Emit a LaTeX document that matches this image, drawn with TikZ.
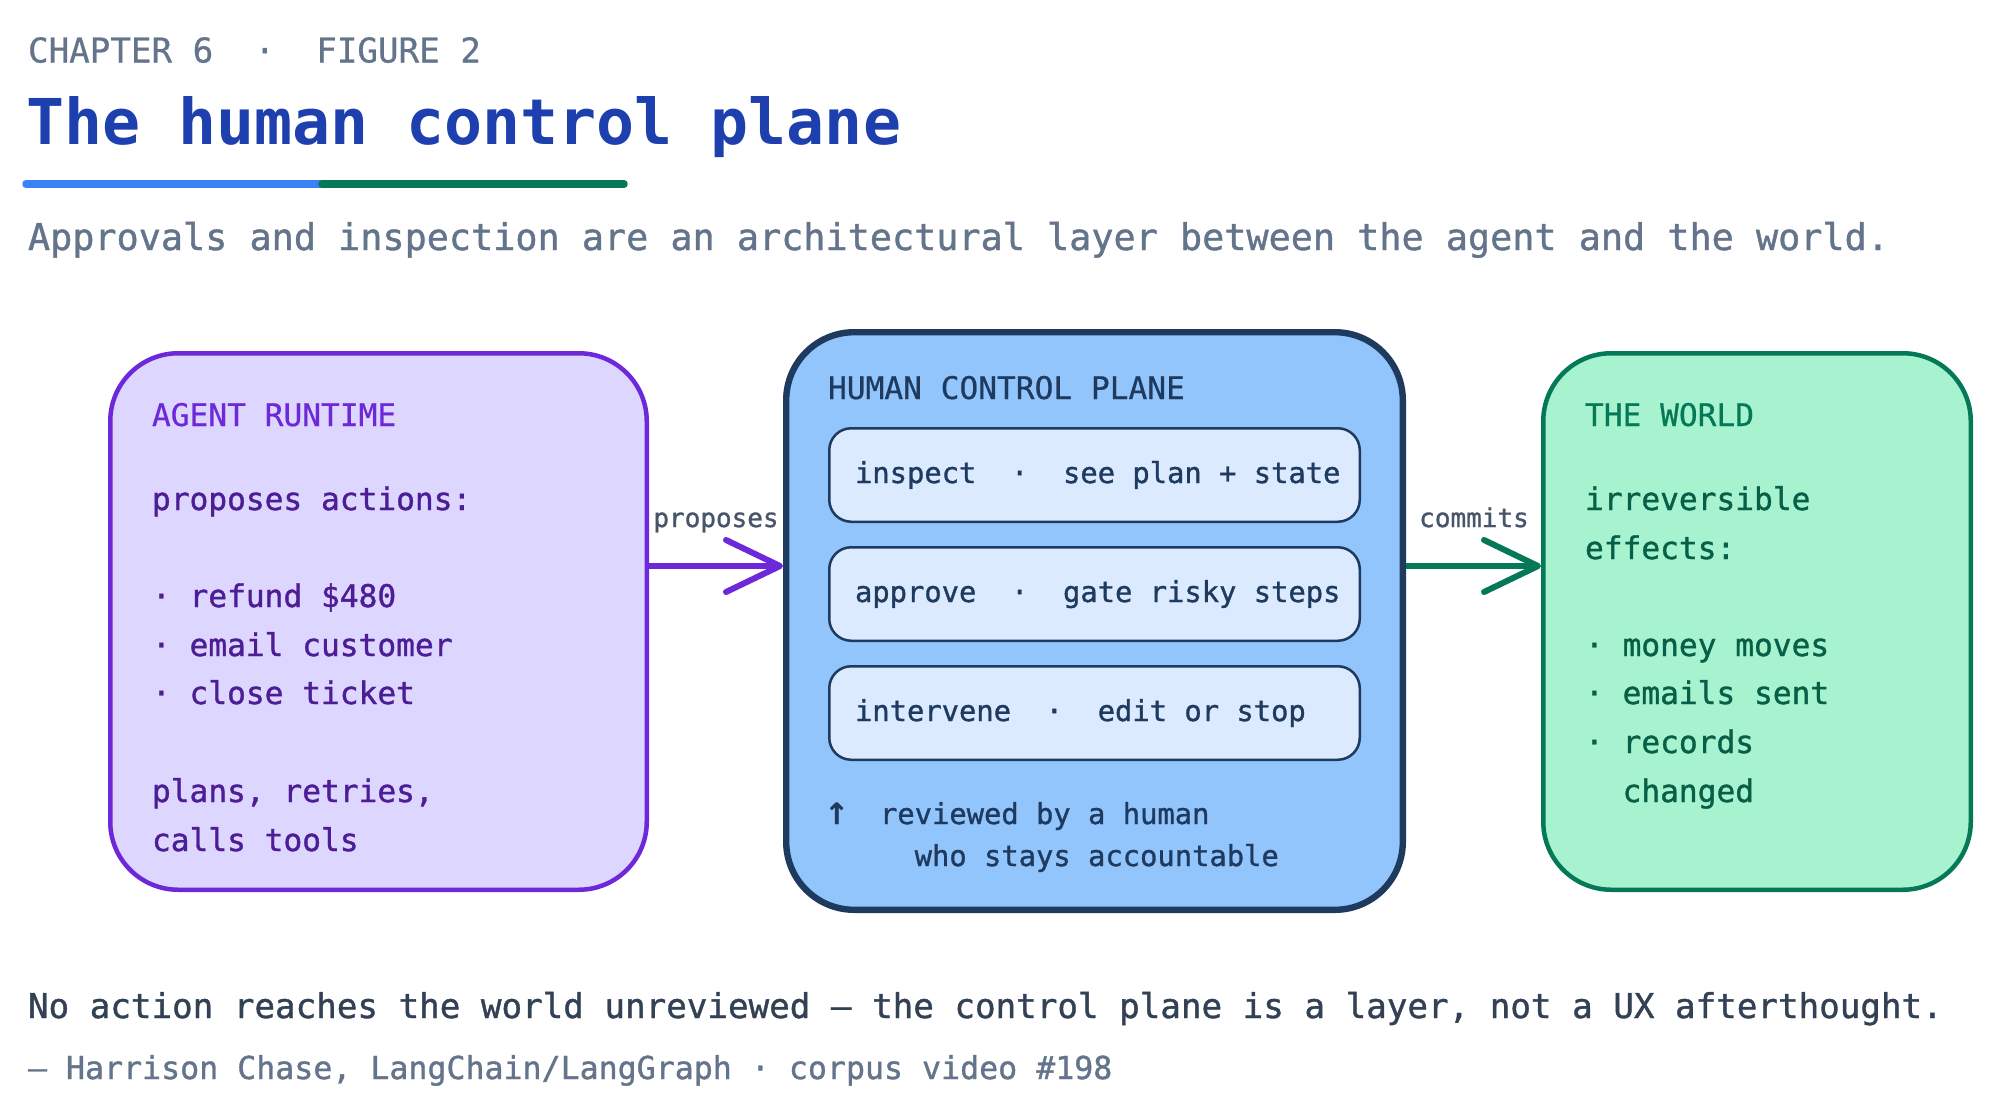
\documentclass[tikz,border=0pt]{standalone}
\usepackage{fontspec}
\setmainfont{DejaVu Sans Mono}
\newfontfamily\mono[FakeBold=0.6]{DejaVu Sans Mono}
\newfontfamily\monomed[FakeBold=1.1]{DejaVu Sans Mono}
\newfontfamily\monobold{DejaVu Sans Mono Bold}
\usetikzlibrary{arrows.meta}
\definecolor{slate}{HTML}{64748B}
\definecolor{slatedark}{HTML}{334155}
\definecolor{labelc}{HTML}{475569}
\definecolor{titleblue}{HTML}{1E40AF}
\definecolor{barblue}{HTML}{3B82F6}
\definecolor{bargreen}{HTML}{047857}
\definecolor{purpleB}{HTML}{6D28D9}
\definecolor{purpleT}{HTML}{4C1D95}
\definecolor{lavender}{HTML}{DDD6FE}
\definecolor{navy}{HTML}{1E3A5F}
\definecolor{skyfill}{HTML}{93C5FD}
\definecolor{rowfill}{HTML}{DBEAFE}
\definecolor{greenB}{HTML}{047857}
\definecolor{greenT}{HTML}{065F46}
\definecolor{mint}{HTML}{A7F3D0}
\newcommand\fsz[1]{\fontsize{#1}{#1}\selectfont}
\newcommand\uparr{\makebox[0.602em][c]{\fontsize{20}{20}\selectfont ↑}}
\tikzset{
  txt/.style={anchor=base west, inner sep=0pt, outer sep=0pt},
  agentbox/.style={draw=purpleB, fill=lavender, line width=2.25pt, rounded corners=34pt, inner sep=0pt},
  hcpbox/.style={draw=navy, fill=skyfill, line width=3.2pt, rounded corners=34pt, inner sep=0pt},
  worldbox/.style={draw=greenB, fill=mint, line width=2.25pt, rounded corners=34pt, inner sep=0pt},
  rowbox/.style={draw=navy, fill=rowfill, line width=1.25pt, rounded corners=11pt, inner sep=0pt,
     minimum width=265.25pt, minimum height=46.75pt},
  agenthead/.style={txt, font=\mono\fsz{15.6}, text=purpleB},
  agentbody/.style={txt, font=\monomed\fsz{15.6}, text=purpleT},
  worldhead/.style={txt, font=\mono\fsz{15.6}, text=greenB},
  worldbody/.style={txt, font=\monomed\fsz{15.6}, text=greenT},
  rowtxt/.style={txt, font=\monomed\fsz{14.4}, text=navy},
  arrlabel/.style={anchor=base, inner sep=0pt, font=\monomed\fsz{13}, text=labelc},
  conn/.style={line width=3pt, -{Straight Barb[length=27pt, width=26pt, round]}},
}
\begin{document}
\begin{tikzpicture}[x=0.5pt, y=-0.5pt]
\useasboundingbox[fill=white] (0,0) rectangle (2000,1119);

% header
\node[txt, font=\mono\fsz{17.1}, text=slate] (chap) at (28,62.5) {CHAPTER 6~~·~~FIGURE 2};
\node[txt, font=\monobold\fsz{31.6}, text=titleblue] (title) at (26,144) {The human control plane};
\draw[line width=3.75pt, barblue, line cap=round] (26,184) -- (322,184);
\draw[line width=3.75pt, bargreen, line cap=round] (322,184) -- (624,184);
\node[txt, font=\monomed\fsz{18.4}, text=slate] (sub) at (28,250) {Approvals and inspection are an architectural layer between the agent and the world.};

% boxes
\node[agentbox, minimum width=268.25pt, minimum height=268.25pt] (agent) at (378.5,621.5) {};
\node[hcpbox, minimum width=308.3pt, minimum height=288.8pt] (hcp) at (1094.5,621) {};
\node[worldbox, minimum width=213.75pt, minimum height=268.25pt] (world) at (1757,621.5) {};

% agent text
\node[agenthead] (a0) at (152,426) {AGENT RUNTIME};
\node[agentbody] (a1) at (152,510) {proposes actions:};
\node[agentbody] (a2) at (152,607) {· refund \$480};
\node[agentbody] (a3) at (152,656) {· email customer};
\node[agentbody] (a4) at (152,704) {· close ticket};
\node[agentbody] (a5) at (152,802) {plans, retries,};
\node[agentbody] (a6) at (152,851) {calls tools};

% human control plane
\node[txt, font=\mono\fsz{15.6}, text=navy] (h0) at (828,399) {HUMAN CONTROL PLANE};
\node[rowbox] (r1) at (1094.5,475) {};
\node[rowbox] (r2) at (1094.5,594) {};
\node[rowbox] (r3) at (1094.5,713) {};
\node[rowtxt] (t1) at (855,483) {inspect~~·~~see plan + state};
\node[rowtxt] (t2) at (855,602) {approve~~·~~gate risky steps};
\node[rowtxt] (t3) at (855,721) {intervene~~·~~edit or stop};
\node[rowtxt] (rv1) at (828,824) {\uparr~~reviewed by a human};
\node[rowtxt] (rv2) at (828,866) {~~~~~who stays accountable};

% world text
\node[worldhead] (w0) at (1585,426) {THE WORLD};
\node[worldbody] (w1) at (1585,510) {irreversible};
\node[worldbody] (w2) at (1585,559) {effects:};
\node[worldbody] (w3) at (1585,656) {· money moves};
\node[worldbody] (w4) at (1585,704) {· emails sent};
\node[worldbody] (w5) at (1585,753) {· records};
\node[worldbody] (w6) at (1585,802) {~~changed};

% connectors
\coordinate (ay) at (0,566);
\draw[conn, purpleB] (agent.east |- ay) -- (hcp.west |- ay);
\draw[conn, greenB] (hcp.east |- ay) -- (world.west |- ay);
\node[arrlabel] (lp) at (716,527) {proposes};
\node[arrlabel] (lc) at (1474,527) {commits};

% footer
\node[txt, font=\monomed\fsz{17.1}, text=slatedark] (foot) at (28,1018) {No action reaches the world unreviewed — the control plane is a layer, not a UX afterthought.};
\node[txt, font=\monomed\fsz{15.8}, text=slate] (attr) at (28,1079) {— Harrison Chase, LangChain/LangGraph · corpus video \#198};
\end{tikzpicture}
\end{document}
